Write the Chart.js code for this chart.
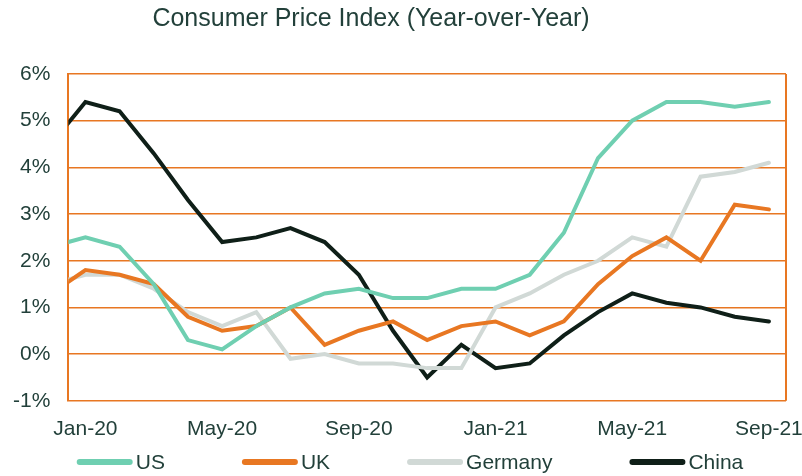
<!DOCTYPE html>
<html>
<head>
<meta charset="utf-8">
<script src="https://cdn.jsdelivr.net/npm/chart.js@4/dist/chart.umd.min.js"></script>
<style>
  html, body { margin: 0; padding: 0; background: #fff; }
  #wrap { width: 802px; height: 476px; }
</style>
</head>
<body>
<div id="wrap"><canvas id="graph"></canvas></div>
<script>
// Month labels, Dec-19 is only there so the lines run into the left edge
const months = ['Dec-19', 'Jan-20', 'Feb-20', 'Mar-20', 'Apr-20', 'May-20', 'Jun-20', 'Jul-20',
    'Aug-20', 'Sep-20', 'Oct-20', 'Nov-20', 'Dec-20', 'Jan-21', 'Feb-21', 'Mar-21',
    'Apr-21', 'May-21', 'Jun-21', 'Jul-21', 'Aug-21', 'Sep-21'];
const shownTicks = ['Jan-20', 'May-20', 'Sep-20', 'Jan-21', 'May-21', 'Sep-21'];

const us = [2.3, 2.5, 2.3, 1.5, 0.3, 0.1, 0.6, 1.0, 1.3, 1.4, 1.2, 1.2, 1.4, 1.4, 1.7, 2.6, 4.2, 5.0, 5.4, 5.4, 5.3, 5.4];
const uk = [1.3, 1.8, 1.7, 1.5, 0.8, 0.5, 0.6, 1.0, 0.2, 0.5, 0.7, 0.3, 0.6, 0.7, 0.4, 0.7, 1.5, 2.1, 2.5, 2.0, 3.2, 3.1];
const germany = [1.5, 1.7, 1.7, 1.4, 0.9, 0.6, 0.9, -0.1, 0.0, -0.2, -0.2, -0.3, -0.3, 1.0, 1.3, 1.7, 2.0, 2.5, 2.3, 3.8, 3.9, 4.1];
const china = [4.5, 5.4, 5.2, 4.3, 3.3, 2.4, 2.5, 2.7, 2.4, 1.7, 0.5, -0.5, 0.2, -0.3, -0.2, 0.4, 0.9, 1.3, 1.1, 1.0, 0.8, 0.7];

const textColor = '#22403a';
const orange = '#e87722';
const font = '"Liberation Sans", Arial, sans-serif';

// x = month index, Jan-20 is 0
function toPoints(values) {
    return values.map((v, i) => ({ x: i - 1, y: v }));
}

function series(label, values, color) {
    return {
        label: label,
        data: toPoints(values),
        borderColor: color,
        backgroundColor: color,
        borderWidth: 4,
        pointRadius: 0,
        tension: 0,
        borderCapStyle: 'round'
    };
}

// right frame line, the off-centre title and the legend row (sample line hugs its text)
const extras = {
    id: 'extras',
    afterDraw(chart) {
        const ctx = chart.ctx;
        const a = chart.chartArea;
        ctx.save();
        ctx.strokeStyle = orange;
        ctx.lineWidth = 2;
        ctx.beginPath();
        ctx.moveTo(a.right, a.top);
        ctx.lineTo(a.right, a.bottom);
        ctx.stroke();

        ctx.fillStyle = textColor;
        ctx.font = '25px ' + font;
        ctx.textAlign = 'center';
        ctx.textBaseline = 'middle';
        ctx.fillText('Consumer Price Index (Year-over-Year)', 371, 19);

        // legend
        ctx.font = '21px ' + font;
        ctx.textAlign = 'left';
        const sample = 56, gapText = 3, gapItem = 77, y = 462;
        const sets = chart.data.datasets;
        const widths = sets.map(d => sample + gapText + ctx.measureText(d.label).width);
        const total = widths.reduce((s, w) => s + w, 0) + gapItem * (sets.length - 1);
        let x = 410 - total / 2;
        sets.forEach((d, i) => {
            ctx.strokeStyle = d.borderColor;
            ctx.lineWidth = 6;
            ctx.lineCap = 'round';
            ctx.beginPath();
            ctx.moveTo(x + 3, y);
            ctx.lineTo(x + sample - 3, y);
            ctx.stroke();
            ctx.fillStyle = textColor;
            ctx.fillText(d.label, x + sample + gapText, y + 1);
            x += widths[i] + gapItem;
        });
        ctx.restore();
    }
};

new Chart(document.querySelector('#graph').getContext('2d'), {
    type: 'line',
    data: {
        datasets: [
            series('US', us, '#6fcfb1'),
            series('UK', uk, orange),
            series('Germany', germany, '#d1d9d6'),
            series('China', china, '#0f1f18')
        ]
    },
    options: {
        responsive: true,
        maintainAspectRatio: false,
        animation: false,
        layout: { padding: { left: -5, right: 16, top: 74, bottom: 26 } },
        scales: {
            x: {
                type: 'linear',
                min: -0.5,
                max: 20.5,
                afterBuildTicks(axis) {
                    axis.ticks = shownTicks.map(m => ({ value: months.indexOf(m) - 1 }));
                },
                // let the end labels hang over the plot edge like the original
                afterFit(axis) {
                    axis.paddingLeft = 0;
                    axis.paddingRight = 0;
                },
                ticks: {
                    color: textColor,
                    font: { family: font, size: 21 },
                    padding: 8,
                    maxRotation: 0,
                    callback: v => months[v + 1]
                },
                grid: { display: false },
                border: { display: false }
            },
            y: {
                min: -1,
                max: 6,
                ticks: {
                    stepSize: 1,
                    color: textColor,
                    font: { family: font, size: 21 },
                    padding: 18,
                    callback: v => v + '%'
                },
                grid: { color: orange, lineWidth: 1.5, drawTicks: false },
                border: { color: orange, width: 2 }
            }
        },
        plugins: {
            title: { display: false },
            tooltip: { enabled: false },
            legend: { display: false }
        }
    },
    plugins: [extras]
});
</script>
</body>
</html>
